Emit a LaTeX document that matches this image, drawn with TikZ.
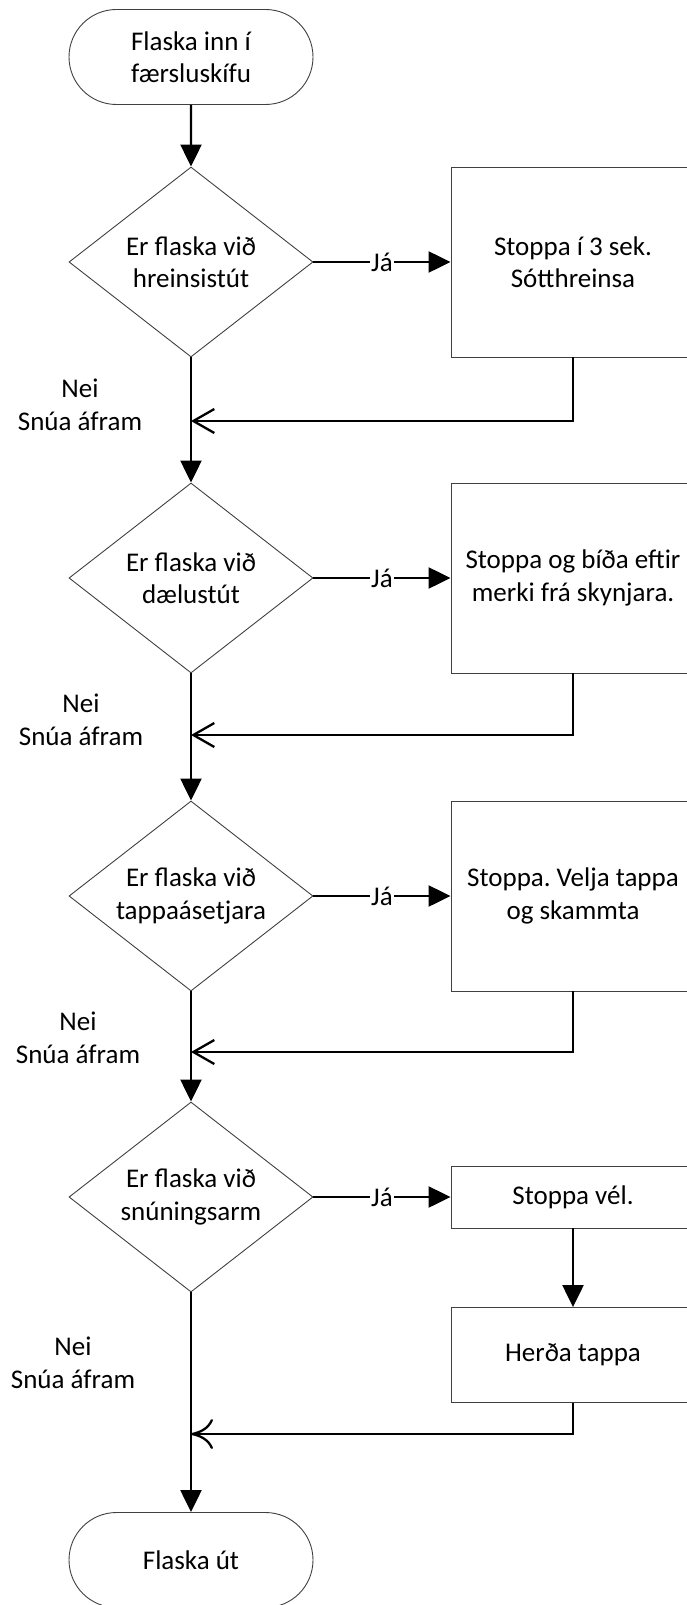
\documentclass[tikz,border=0pt]{standalone}
\usepackage{fontspec}
\setmainfont{Carlito}
\usetikzlibrary{shapes.geometric,shapes.misc,arrows.meta}
\frenchspacing

\begin{document}
\begin{tikzpicture}[x=1pt,y=-1pt,
  font=\fontsize{27}{32.5}\selectfont,
  term/.style={draw=black!75,line width=0.9pt,rounded rectangle,minimum width=244pt,minimum height=95pt,align=center,inner sep=0pt},
  quest/.style={draw=black!75,line width=0.9pt,diamond,aspect=1.28,minimum width=244pt,minimum height=190pt,align=center,inner sep=0pt},
  act/.style={draw=black!75,line width=0.9pt,rectangle,minimum width=244pt,align=center,inner sep=0pt},
  flowarrow/.style={line width=2.3pt,-{Triangle[length=22pt,width=21pt]}},
  backarrow/.style={line width=2.3pt,-{Straight Barb[length=21pt,width=24pt]}},
  ja/.style={fill=white,inner sep=1pt},
  neilabel/.style={align=center}]
\useasboundingbox (0,0) rectangle (687,1605);
\node[term] (start) at (191,57) {Flaska inn í\\færsluskífu};
\node[quest] (q1) at (191,262) {Er flaska við\\hreinsistút};
\node[quest] (q2) at (191,578) {Er flaska við\\dælustút};
\node[quest] (q3) at (191,896) {Er flaska við\\tappaásetjara};
\node[quest] (q4) at (191,1197) {Er flaska við\\snúningsarm};
\node[act,minimum height=190pt] (s1) at (573,262) {Stoppa í 3 sek.\\Sótthreinsa};
\node[act,minimum height=190pt] (s2) at (573,578) {Stoppa og bíða eftir\\merki frá skynjara.};
\node[act,minimum height=190pt] (s3) at (573,896) {Stoppa. Velja tappa\\og skammta};
\node[act,minimum height=62pt] (s4a) at (573,1197) {Stoppa vél.};
\node[act,minimum height=95pt] (s4b) at (573,1355) {Herða tappa};
\node[term] (stop) at (191,1560) {Flaska út};
\node[neilabel] (n1) at (80,405) {Nei\\Snúa áfram};
\node[neilabel] (n2) at (81,720) {Nei\\Snúa áfram};
\node[neilabel] (n3) at (78,1038) {Nei\\Snúa áfram};
\node[neilabel] (n4) at (73,1363) {Nei\\Snúa áfram};
\coordinate (j1) at (191,421);
\coordinate (j2) at (191,735);
\coordinate (j3) at (191,1052);
\coordinate (j4) at (191,1434);
\draw[flowarrow] (start) -- (q1);
\draw[flowarrow] (q1) -- (q2);
\draw[flowarrow] (q2) -- (q3);
\draw[flowarrow] (q3) -- (q4);
\draw[flowarrow] (q4) -- (stop);
\draw[flowarrow] (q1) -- node[ja] {Já} (s1);
\draw[flowarrow] (q2) -- node[ja] {Já} (s2);
\draw[flowarrow] (q3) -- node[ja] {Já} (s3);
\draw[flowarrow] (q4) -- node[ja] {Já} (s4a);
\draw[flowarrow] (s4a) -- (s4b);
\draw[backarrow] (s1.south) |- (j1);
\draw[backarrow] (s2.south) |- (j2);
\draw[backarrow] (s3.south) |- (j3);
\draw[line width=2.3pt,-{Computer Modern Rightarrow[length=22pt,width=30pt]}] (s4b.south) |- (j4);
\end{tikzpicture}
\end{document}
